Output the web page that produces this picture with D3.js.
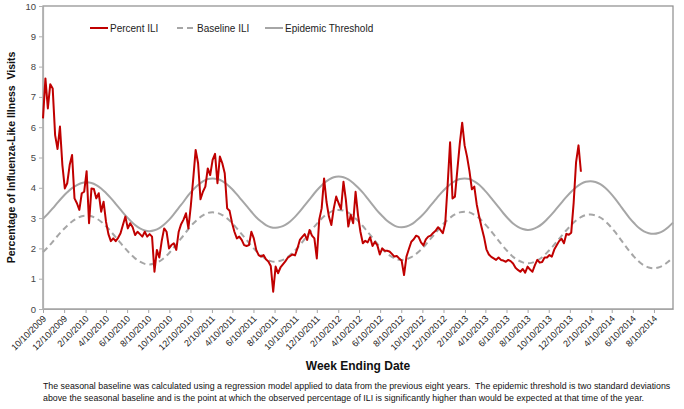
<!DOCTYPE html>
<html>
<head>
<meta charset="utf-8">
<script src="https://cdn.jsdelivr.net/npm/d3@7"></script>
<style>
  body { margin: 0; background: #fff; }
  svg { font-family: Arial, "Liberation Sans", sans-serif; }
</style>
</head>
<body>
<div id="chart"></div>
<script>
const WIDTH = 684, HEIGHT = 409;
const margin = { top: 6, right: 11, bottom: 100, left: 43 };

// week ending dates: weekly from 10/10/2009
const firstWeek = "10/10/2009";
const lastWeek = "10/4/2014";

// Percent ILI, weekly from 10/10/2009 to 1/11/2014
const percentILI = [
  6.29, 7.61, 6.62, 7.42, 7.28, 5.74, 5.28, 6.02, 4.75, 3.98,
  4.15, 4.75, 5.08, 3.65, 3.49, 3.27, 3.82, 3.87, 4.55, 2.83,
  3.98, 3.96, 3.65, 3.82, 3.21, 3.54, 2.88, 2.47, 2.24, 2.33,
  2.24, 2.35, 2.50, 2.78, 3.05, 2.66, 2.83, 2.70, 2.44, 2.55,
  2.47, 2.39, 2.55, 2.39, 2.47, 2.39, 1.23, 1.95, 1.70, 2.25,
  2.66, 2.55, 2.00, 2.11, 2.17, 1.95, 2.55, 2.80, 2.95, 3.16,
  2.66, 3.40, 4.30, 5.25, 4.81, 3.62, 3.87, 4.04, 4.64, 4.42,
  4.92, 5.12, 4.15, 5.03, 4.81, 4.48, 3.32, 3.24, 2.85, 2.55,
  2.33, 2.39, 2.28, 2.11, 2.08, 2.11, 2.55, 2.33, 1.95, 1.78,
  1.73, 1.78, 1.64, 1.57, 1.42, 0.57, 1.40, 1.18, 1.37, 1.47,
  1.57, 1.69, 1.75, 1.80, 1.77, 2.00, 2.28, 2.38, 2.47, 2.28,
  2.61, 2.42, 2.33, 1.67, 2.95, 3.32, 4.31, 3.54, 3.05, 2.77,
  3.32, 3.71, 3.49, 3.30, 4.20, 3.60, 2.72, 3.10, 2.83, 3.87,
  3.10, 2.55, 2.17, 2.25, 2.20, 2.37, 2.08, 2.22, 2.10, 1.80,
  2.00, 1.92, 1.92, 1.90, 1.82, 1.73, 1.75, 1.67, 1.60, 1.12,
  1.73, 1.98, 2.22, 2.30, 2.42, 2.38, 2.20, 2.10, 2.30, 2.39,
  2.42, 2.51, 2.58, 2.70, 2.61, 2.50, 2.83, 4.10, 5.50, 3.65,
  3.71, 4.59, 5.45, 6.15, 5.40, 5.03, 4.55, 3.95, 4.04, 3.45,
  3.05, 2.70, 2.38, 1.97, 1.80, 1.72, 1.67, 1.62, 1.70, 1.62,
  1.60, 1.56, 1.62, 1.58, 1.50, 1.36, 1.29, 1.23, 1.32, 1.20,
  1.40, 1.30, 1.23, 1.45, 1.62, 1.53, 1.55, 1.70, 1.70, 1.78,
  1.73, 1.96, 2.10, 2.24, 2.32, 2.17, 2.48, 2.45, 2.52, 3.50,
  4.85, 5.40, 4.53
];

// Baseline ILI, every second week from 10/10/2009 to 10/4/2014
const baselineILI = [
  1.88, 2.04, 2.22, 2.41, 2.59, 2.75, 2.89, 2.99, 3.06, 3.08,
  3.06, 2.99, 2.88, 2.73, 2.56, 2.37, 2.18, 1.99, 1.82, 1.67, 1.56, 1.49, 1.47,
  1.50, 1.57, 1.69, 1.84, 2.03, 2.23, 2.43, 2.64, 2.82, 2.97, 3.09, 3.17, 3.19,
  3.17, 3.10, 2.99, 2.84, 2.66, 2.47, 2.28, 2.09, 1.91, 1.77, 1.65, 1.58, 1.56,
  1.59, 1.66, 1.78, 1.93, 2.11, 2.31, 2.52, 2.72, 2.90, 3.06, 3.17, 3.25, 3.27,
  3.25, 3.18, 3.06, 2.91, 2.74, 2.54, 2.35, 2.15, 1.98, 1.83, 1.72, 1.64, 1.62,
  1.64, 1.71, 1.82, 1.96, 2.13, 2.32, 2.51, 2.70, 2.87, 3.01, 3.12, 3.19, 3.21,
  3.19, 3.11, 3.00, 2.84, 2.66, 2.46, 2.26, 2.06, 1.88, 1.72, 1.61, 1.54, 1.51,
  1.53, 1.60, 1.71, 1.86, 2.03, 2.22, 2.41, 2.60, 2.77, 2.92, 3.03, 3.10, 3.12,
  3.09, 3.02, 2.90, 2.74, 2.55, 2.34, 2.12, 1.91, 1.72, 1.56, 1.44, 1.37, 1.34,
  1.37, 1.44, 1.56, 1.71
];

// Epidemic threshold, every second week from 10/10/2009 to 10/4/2014
const epidemicThreshold = [
  2.98, 3.14, 3.32, 3.51, 3.69, 3.85, 3.99, 4.09, 4.16, 4.18,
  4.16, 4.09, 3.98, 3.83, 3.66, 3.47, 3.28, 3.09, 2.92, 2.77, 2.66, 2.59, 2.57,
  2.60, 2.67, 2.79, 2.94, 3.13, 3.34, 3.54, 3.76, 3.94, 4.09, 4.21, 4.29, 4.31,
  4.29, 4.22, 4.11, 3.96, 3.78, 3.59, 3.40, 3.21, 3.03, 2.89, 2.77, 2.70, 2.68,
  2.71, 2.78, 2.89, 3.04, 3.22, 3.42, 3.62, 3.82, 4.00, 4.16, 4.27, 4.35, 4.37,
  4.35, 4.28, 4.16, 4.01, 3.84, 3.64, 3.44, 3.24, 3.07, 2.91, 2.80, 2.72, 2.70,
  2.72, 2.79, 2.91, 3.05, 3.22, 3.42, 3.61, 3.80, 3.97, 4.11, 4.22, 4.29, 4.31,
  4.29, 4.21, 4.10, 3.94, 3.76, 3.56, 3.36, 3.16, 2.98, 2.82, 2.71, 2.64, 2.61,
  2.63, 2.70, 2.81, 2.96, 3.13, 3.32, 3.51, 3.70, 3.87, 4.02, 4.13, 4.20, 4.22,
  4.19, 4.12, 4.00, 3.84, 3.65, 3.44, 3.22, 3.01, 2.83, 2.67, 2.56, 2.50, 2.48,
  2.51, 2.58, 2.70, 2.85
];

const tickLabels = [
  "10/10/2009", "12/10/2009",
  "2/10/2010", "4/10/2010", "6/10/2010", "8/10/2010", "10/10/2010", "12/10/2010",
  "2/10/2011", "4/10/2011", "6/10/2011", "8/10/2011", "10/10/2011", "12/10/2011",
  "2/10/2012", "4/10/2012", "6/10/2012", "8/10/2012", "10/10/2012", "12/10/2012",
  "2/10/2013", "4/10/2013", "6/10/2013", "8/10/2013", "10/10/2013", "12/10/2013",
  "2/10/2014", "4/10/2014", "6/10/2014", "8/10/2014"
];

const yTicks = [0, 1, 2, 3, 4, 5, 6, 7, 8, 9, 10];

const footnote = [
  "The seasonal baseline was calculated using a regression model applied to data from the previous eight years.  The epidemic threshold is two standard deviations",
  "above the seasonal baseline and is the point at which the observed percentage of ILI is significantly higher than would be expected at that time of the year."
];

const parseDate = d3.timeParse("%m/%d/%Y");
const start = parseDate(firstWeek);
const iliSeries = percentILI.map((v, i) => ({ date: d3.timeDay.offset(start, 7 * i), value: v }));
const baseSeries = baselineILI.map((v, i) => ({ date: d3.timeDay.offset(start, 14 * i), value: v }));
const threshSeries = epidemicThreshold.map((v, i) => ({ date: d3.timeDay.offset(start, 14 * i), value: v }));

const width = WIDTH - margin.left - margin.right;
const height = HEIGHT - margin.top - margin.bottom;

const svg = d3.select('#chart').append('svg')
    .attr('width', WIDTH)
    .attr('height', HEIGHT);

const g = svg.append('g')
    .attr('transform', `translate(${margin.left}, ${margin.top})`);

const xScale = d3.scaleTime()
    .domain([start, parseDate(lastWeek)])
    .range([0, width]);

const yScale = d3.scaleLinear()
    .domain([0, 10])
    .range([height, 0]);

// plot frame
g.append('rect')
    .attr('x', 0).attr('y', 0)
    .attr('width', width).attr('height', height)
    .attr('fill', 'none')
    .attr('stroke', '#8c8c8c')
    .attr('stroke-width', 1.2);

const xAxis = g.append('g')
    .attr('transform', `translate(0, ${height})`)
    .call(d3.axisBottom(xScale)
        .tickValues(tickLabels.map(parseDate))
        .tickFormat((d, i) => tickLabels[i])
        .tickSize(4)
        .tickSizeOuter(0));
xAxis.select('.domain').attr('stroke', '#a6a6a6').attr('stroke-width', 1.2);
xAxis.selectAll('.tick line').attr('stroke', '#a6a6a6');
xAxis.selectAll('text')
    .attr('font-size', 9)
    .attr('fill', '#222')
    .attr('text-anchor', 'end')
    .attr('x', 0)
    .attr('y', 0)
    .attr('dy', '0.35em')
    .attr('transform', 'translate(1, 8) rotate(-45)');

const yAxis = g.append('g')
    .call(d3.axisLeft(yScale)
        .tickValues(yTicks)
        .tickSize(4)
        .tickSizeOuter(0));
yAxis.select('.domain').attr('stroke', '#b0b0b0').attr('stroke-width', 1.2);
yAxis.selectAll('.tick line').attr('stroke', '#b0b0b0');
yAxis.selectAll('text')
    .attr('font-size', 9.5)
    .attr('fill', '#444')
    .attr('x', -7);

const line = d3.line()
    .x(d => xScale(d.date))
    .y(d => yScale(d.value));

const smooth = d3.line()
    .x(d => xScale(d.date))
    .y(d => yScale(d.value))
    .curve(d3.curveCatmullRom);

g.append('path')
    .datum(threshSeries)
    .attr('fill', 'none')
    .attr('stroke', '#a6a6a6')
    .attr('stroke-width', 2)
    .attr('d', smooth);

g.append('path')
    .datum(baseSeries)
    .attr('fill', 'none')
    .attr('stroke', '#a6a6a6')
    .attr('stroke-width', 2)
    .attr('stroke-dasharray', '6,4')
    .attr('d', smooth);

g.append('path')
    .datum(iliSeries)
    .attr('fill', 'none')
    .attr('stroke', '#c00000')
    .attr('stroke-width', 2)
    .attr('stroke-linejoin', 'round')
    .attr('d', line);

// legend
const legendItems = [
    { label: 'Percent ILI', x: 90, color: '#c00000', dash: null },
    { label: 'Baseline ILI', x: 177, color: '#a6a6a6', dash: '6,4' },
    { label: 'Epidemic Threshold', x: 265, color: '#a6a6a6', dash: null }
];
const legend = svg.append('g');
legendItems.forEach(item => {
    legend.append('line')
        .attr('x1', item.x).attr('x2', item.x + 18)
        .attr('y1', 28).attr('y2', 28)
        .attr('stroke', item.color)
        .attr('stroke-width', 2)
        .attr('stroke-dasharray', item.dash);
    legend.append('text')
        .attr('x', item.x + 20)
        .attr('y', 28)
        .attr('dy', '0.35em')
        .attr('font-size', 10)
        .attr('fill', '#222')
        .text(item.label);
});

// axis titles
svg.append('text')
    .attr('transform', `translate(11, ${margin.top + height / 2}) rotate(-90)`)
    .attr('text-anchor', 'middle')
    .attr('dy', '0.35em')
    .attr('font-size', 10.5)
    .attr('font-weight', 'bold')
    .attr('fill', '#111')
    .style('white-space', 'pre')
    .text('Percentage of Influenza-Like Illness  Visits');

svg.append('text')
    .attr('x', margin.left + width / 2)
    .attr('y', 366)
    .attr('dy', '0.35em')
    .attr('text-anchor', 'middle')
    .attr('font-size', 12)
    .attr('font-weight', 'bold')
    .attr('fill', '#111')
    .text('Week Ending Date');

svg.selectAll('.note')
    .data(footnote)
    .enter()
    .append('text')
    .attr('class', 'note')
    .attr('x', 43)
    .attr('y', (d, i) => 386 + i * 12)
    .attr('dy', '0.35em')
    .attr('font-size', 8.8)
    .attr('fill', '#111')
    .style('white-space', 'pre')
    .text(d => d);
</script>
</body>
</html>
